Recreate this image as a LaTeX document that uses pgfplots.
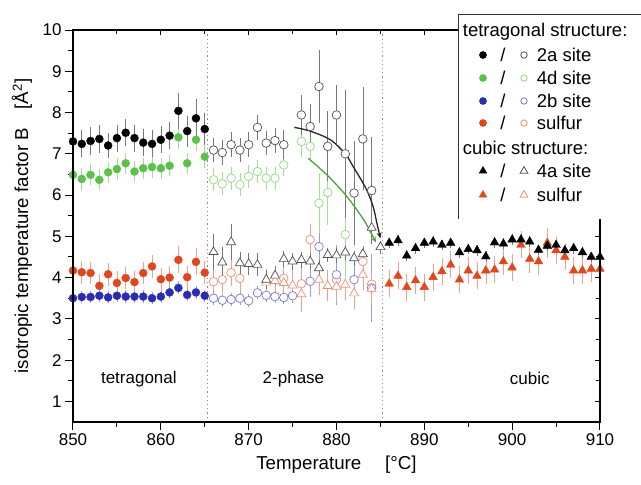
\documentclass[border=0pt]{standalone}
\usepackage{fontspec}
\setmainfont{Liberation Sans}
\usepackage{pgfplots}
\pgfplotsset{compat=1.18}
\usetikzlibrary{arrows.meta}

\definecolor{cGreen}{HTML}{5CC04A}
\definecolor{cBlue}{HTML}{2B2BB3}
\definecolor{cRed}{HTML}{E0471C}
\definecolor{oGray}{HTML}{505050}
\definecolor{oGreen}{HTML}{92D884}
\definecolor{oBlue}{HTML}{7878D8}
\definecolor{oRed}{HTML}{EE9079}
\definecolor{eGray}{HTML}{777777}
\definecolor{eGreen}{HTML}{A4DC98}
\definecolor{eBlue}{HTML}{9A9AE0}
\definecolor{eRed}{HTML}{F0A08C}
\definecolor{dotGray}{HTML}{8A8A8A}

\newcommand{\fs}{\fontsize{17}{20}\selectfont}
\newcommand{\labfs}{\fontsize{18.7}{22}\selectfont}
\newcommand{\lfs}{\fontsize{18.5}{22}\selectfont}

\pgfplotsset{
  ebar/.style={error bars/.cd, y dir=both, y explicit,
    error bar style={draw=#1, line width=0.6pt},
    error mark options={draw=#1, mark size=3.2pt, line width=0.6pt}},
  fdot/.style={only marks, mark=*, mark size=4pt, mark options={fill=#1, draw=#1}},
  odot/.style={only marks, mark=*, mark size=4.3pt, mark options={fill=white, draw=#1, line width=0.7pt}},
  ftri/.style={only marks, mark=triangle*, mark size=5pt, mark options={fill=#1, draw=#1}},
  otri/.style={only marks, mark=triangle*, mark size=5.2pt, mark options={fill=white, draw=#1, line width=0.7pt}},
}

\begin{document}
\begin{tikzpicture}
\begin{axis}[
  at={(0,0)}, anchor=south west,
  width=527pt, height=392pt, scale only axis,
  xmin=850, xmax=910, ymin=0.5, ymax=10,
  xtick={850,860,...,910}, ytick={1,...,10},
  minor x tick num=1, minor y tick num=1,
  xtick pos=bottom, ytick pos=left, tick align=outside,
  major tick length=8pt, minor tick length=5pt,
  axis line style={line width=1.1pt},
  tick style={line width=1pt, black},
  font=\fs, ticklabel style={font=\fs},
  /pgf/number format/assume math mode=true,
  /pgf/number format/1000 sep={},
  xlabel={Temperature\quad\ [°C]},
  ylabel={isotropic temperature factor B\quad[Å\textsuperscript{2}]},
  xlabel style={font=\labfs, at={(axis description cs:0.5,-0.11)}, anchor=center},
  ylabel style={font=\labfs, at={(axis description cs:-0.097,0.5)}, anchor=center},
  clip=false,
]
% phase boundaries
\addplot[dotGray, line width=1.2pt, dash pattern=on 1.2pt off 3pt] coordinates {(865.3,0.5) (865.3,10)};
\addplot[dotGray, line width=1.2pt, dash pattern=on 1.2pt off 3pt] coordinates {(885.2,0.5) (885.2,10)};

% ---- 2-phase region, open symbols ----
\addplot[odot=oRed, ebar=eRed] coordinates {
 (866,3.90)+-(0,0.25) (867,3.95)+-(0,0.25) (868,4.12)+-(0,0.25) (869,3.98)+-(0,0.25)
 (874,3.98)+-(0,0.3) (876,3.85)+-(0,0.3) (877,4.92)+-(0,0.3) (880,3.95)+-(0,0.3)
 (883,4.39)+-(0,0.3) (884,3.84)+-(0,0.3)
};
\addplot[odot=oBlue, ebar=eBlue] coordinates {
 (866,3.50)+-(0,0.08) (867,3.45)+-(0,0.08) (868,3.47)+-(0,0.08) (869,3.50)+-(0,0.08)
 (870,3.44)+-(0,0.08) (871,3.63)+-(0,0.08) (872,3.57)+-(0,0.08) (873,3.54)+-(0,0.08)
 (874,3.52)+-(0,0.08) (875,3.56)+-(0,0.1) (877,3.91)+-(0,0.3) (878,4.75)+-(0,0.3)
 (880,4.07)+-(0,0.65) (882,3.95)+-(0,0.55) (884,3.75)+-(0,0.75)
};
\addplot[otri=oRed, ebar=eRed] coordinates {
 (872,3.88)+-(0,0.25) (873,3.92)+-(0,0.25) (874,3.87)+-(0,0.3) (875,3.81)+-(0,0.3)
 (876,3.60)+-(0,0.35) (878,3.95)+-(0,0.3) (879,3.80)+-(0,0.3) (880,3.78)+-(0,0.3)
 (881,3.83)+-(0,0.3) (882,3.62)+-(0,0.3) (883,4.07)+-(0,0.3) (884,3.73)+-(0,0.3)
};
\addplot[odot=oGreen, ebar=eGreen] coordinates {
 (866,6.37)+-(0,0.2) (867,6.27)+-(0,0.2) (868,6.41)+-(0,0.2) (869,6.25)+-(0,0.2)
 (870,6.45)+-(0,0.2) (871,6.57)+-(0,0.2) (872,6.41)+-(0,0.2) (873,6.41)+-(0,0.2)
 (874,6.73)+-(0,0.2) (876,7.30)+-(0,0.3) (877,7.18)+-(0,0.3) (878,5.80)+-(0,0.65)
 (879,6.06)+-(0,0.7) (881,5.04)+-(0,1.1)
};
\addplot[odot=oGray, ebar=eGray] coordinates {
 (866,7.09)+-(0,0.22) (867,7.03)+-(0,0.22) (868,7.22)+-(0,0.22) (869,7.09)+-(0,0.22)
 (870,7.22)+-(0,0.22) (871,7.64)+-(0,0.22) (872,7.26)+-(0,0.22) (873,7.32)+-(0,0.22)
 (874,7.22)+-(0,0.28) (876,7.94)+-(0,0.4) (877,7.66)+-(0,0.48) (878,8.63)+-(0,0.8)
 (879,7.18)+-(0,0.77) (880,7.94)+-(0,0.65) (881,7.00)+-(0,1.47) (882,6.05)+-(0,1.19)
 (883,7.36)+-(0,1.17) (884,6.11)+-(0,1.23)
};
\addplot[otri=oGray, ebar=eGray] coordinates {
 (866,4.62)+-(0,0.36) (867,4.37)+-(0,0.3) (868,4.86)+-(0,0.35) (869,4.35)+-(0,0.2)
 (870,4.33)+-(0,0.2) (871,4.31)+-(0,0.2) (872,3.95)+-(0,0.15) (873,4.05)+-(0,0.15)
 (874,4.45)+-(0,0.12) (875,4.39)+-(0,0.12) (876,4.43)+-(0,0.12) (877,4.39)+-(0,0.12)
 (878,4.23)+-(0,0.12) (879,4.55)+-(0,0.1) (880,4.54)+-(0,0.1) (881,4.61)+-(0,0.1)
 (882,4.47)+-(0,0.1) (883,4.57)+-(0,0.1) (884,5.21)+-(0,0.12) (885,4.74)+-(0,0.08)
};

% ---- tetragonal region, filled circles ----
\addplot[fdot=cRed, ebar=eRed] coordinates {
 (850,4.17)+-(0,0.2) (851,4.13)+-(0,0.2) (852,4.11)+-(0,0.2) (853,3.80)+-(0,0.2)
 (854,4.08)+-(0,0.2) (855,3.87)+-(0,0.2) (856,3.99)+-(0,0.2) (857,3.89)+-(0,0.2)
 (858,4.11)+-(0,0.2) (859,4.27)+-(0,0.2) (860,3.96)+-(0,0.2) (861,4.00)+-(0,0.2)
 (862,4.43)+-(0,0.25) (863,4.01)+-(0,0.2) (864,4.38)+-(0,0.25) (865,4.12)+-(0,0.2)
};
\addplot[fdot=cBlue, ebar=eBlue] coordinates {
 (850,3.50)+-(0,0.07) (851,3.53)+-(0,0.07) (852,3.53)+-(0,0.07) (853,3.56)+-(0,0.07)
 (854,3.52)+-(0,0.07) (855,3.56)+-(0,0.07) (856,3.54)+-(0,0.07) (857,3.54)+-(0,0.07)
 (858,3.54)+-(0,0.07) (859,3.50)+-(0,0.07) (860,3.54)+-(0,0.07) (861,3.64)+-(0,0.07)
 (862,3.75)+-(0,0.08) (863,3.58)+-(0,0.07) (864,3.64)+-(0,0.07) (865,3.56)+-(0,0.07)
};
\addplot[fdot=cGreen, ebar=eGreen] coordinates {
 (850,6.49)+-(0,0.18) (851,6.39)+-(0,0.18) (852,6.49)+-(0,0.18) (853,6.37)+-(0,0.18)
 (854,6.55)+-(0,0.18) (855,6.63)+-(0,0.18) (856,6.77)+-(0,0.18) (857,6.57)+-(0,0.18)
 (858,6.65)+-(0,0.18) (859,6.68)+-(0,0.18) (860,6.65)+-(0,0.18) (861,6.71)+-(0,0.18)
 (862,7.40)+-(0,0.2) (863,6.77)+-(0,0.18) (864,7.34)+-(0,0.2) (865,6.93)+-(0,0.2)
};
\addplot[fdot=black, ebar=eGray] coordinates {
 (850,7.30)+-(0,0.25) (851,7.24)+-(0,0.25) (852,7.31)+-(0,0.25) (853,7.36)+-(0,0.27)
 (854,7.20)+-(0,0.22) (855,7.38)+-(0,0.25) (856,7.51)+-(0,0.25) (857,7.38)+-(0,0.25)
 (858,7.27)+-(0,0.25) (859,7.24)+-(0,0.25) (860,7.34)+-(0,0.25) (861,7.44)+-(0,0.25)
 (862,8.04)+-(0,0.35) (863,7.55)+-(0,0.3) (864,7.86)+-(0,0.38) (865,7.60)+-(0,0.3)
};

% ---- cubic region, filled triangles ----
\addplot[ftri=cRed, ebar=eRed] coordinates {
 (886,3.85)+-(0,0.25) (887,4.04)+-(0,0.25) (888,3.77)+-(0,0.25) (889,3.93)+-(0,0.25)
 (890,3.77)+-(0,0.25) (891,4.01)+-(0,0.25) (892,4.15)+-(0,0.25) (893,4.31)+-(0,0.25)
 (894,3.95)+-(0,0.25) (895,4.17)+-(0,0.25) (896,4.04)+-(0,0.25) (897,4.17)+-(0,0.25)
 (898,4.19)+-(0,0.25) (899,4.39)+-(0,0.25) (900,4.24)+-(0,0.25) (901,4.79)+-(0,0.25)
 (902,4.45)+-(0,0.25) (903,4.39)+-(0,0.25) (904,4.84)+-(0,0.28) (905,4.66)+-(0,0.25)
 (906,4.50)+-(0,0.25) (907,4.17)+-(0,0.25) (908,4.17)+-(0,0.25) (909,4.21)+-(0,0.25)
 (910,4.21)+-(0,0.25)
};
\addplot[ftri=black, ebar=eGray] coordinates {
 (886,4.84)+-(0,0.05) (887,4.90)+-(0,0.05) (888,4.53)+-(0,0.05) (889,4.71)+-(0,0.05)
 (890,4.84)+-(0,0.05) (891,4.87)+-(0,0.05) (892,4.79)+-(0,0.05) (893,4.84)+-(0,0.05)
 (894,4.61)+-(0,0.05) (895,4.69)+-(0,0.05) (896,4.66)+-(0,0.05) (897,4.51)+-(0,0.05)
 (898,4.85)+-(0,0.05) (899,4.82)+-(0,0.05) (900,4.92)+-(0,0.05) (901,4.92)+-(0,0.05)
 (902,4.87)+-(0,0.05) (903,4.67)+-(0,0.05) (904,4.77)+-(0,0.05) (905,4.79)+-(0,0.05)
 (906,4.66)+-(0,0.05) (907,4.71)+-(0,0.05) (908,4.61)+-(0,0.05) (909,4.50)+-(0,0.05)
 (910,4.50)+-(0,0.05)
};

% ---- fitted curves ----
\addplot[smooth, line width=1.3pt, color=cGreen!85!black, -{Stealth[length=6pt,width=5pt]}] coordinates {
 (876.8,6.89) (879.1,6.45) (881.2,5.96) (883.1,5.40) (884.0,5.05) (884.5,4.85)
};
\addplot[smooth, line width=1.3pt, color=black!85, -{Stealth[length=6pt,width=5pt]}] coordinates {
 (875.2,7.64) (877.0,7.55) (879.3,7.34) (881.0,7.00) (881.9,6.69) (883.0,6.30)
 (883.6,6.05) (884.2,5.70) (884.6,5.32) (885.0,4.95)
};

% region labels
\node[font=\fs] at (axis cs:857.5,1.55) {tetragonal};
\node[font=\fs] at (axis cs:875.1,1.55) {2-phase};
\node[font=\fs] at (axis cs:902.0,1.55) {cubic};
\end{axis}

% mirrored ticks on top and right, pointing inwards
\begin{axis}[
  at={(0,0)}, anchor=south west,
  width=527pt, height=392pt, scale only axis,
  xmin=850, xmax=910, ymin=0.5, ymax=10,
  xtick={850,860,...,910}, ytick={1,...,10},
  minor x tick num=1, minor y tick num=1,
  xtick pos=top, ytick pos=right, tick align=inside,
  major tick length=5pt, minor tick length=4pt,
  tick style={line width=1pt, black},
  axis line style={line width=1.1pt},
  xticklabels={}, yticklabels={},
]
\end{axis}

% legend
\fill[white] (385pt,203pt) rectangle (580pt,407pt);
\draw[line width=1pt, black!80] (385pt,203pt) -- (385pt,407pt) -- (580pt,407pt);
\begin{scope}[font=\lfs]
\node[anchor=west, inner sep=0pt] at (389.7pt,390pt) {tetragonal structure:};
\node[anchor=west, inner sep=0pt] at (389.7pt,274pt) {cubic structure:};
\foreach \yy/\lab in {367/2a site, 344/4d site, 321/2b site, 299/sulfur, 251/4a site, 227/sulfur}{
  \node[anchor=west, inner sep=0pt] at (463.7pt,\yy pt) {\lab};
  \node[inner sep=0pt] at (430pt,\yy pt) {/};
}
\path[fill=black] plot[mark=*, mark size=3.6pt] coordinates {(410pt,367pt)};
\path[draw=oGray, line width=0.8pt] plot[mark=o, mark size=3.2pt] coordinates {(451pt,367pt)};
\path[fill=cGreen, draw=cGreen] plot[mark=*, mark size=3.6pt] coordinates {(410pt,344pt)};
\path[draw=oGreen, line width=0.8pt] plot[mark=o, mark size=3.2pt] coordinates {(451pt,344pt)};
\path[fill=cBlue, draw=cBlue] plot[mark=*, mark size=3.6pt] coordinates {(410pt,321pt)};
\path[draw=oBlue, line width=0.8pt] plot[mark=o, mark size=3.2pt] coordinates {(451pt,321pt)};
\path[fill=cRed, draw=cRed] plot[mark=*, mark size=3.6pt] coordinates {(410pt,299pt)};
\path[draw=oRed, line width=0.8pt] plot[mark=o, mark size=3.2pt] coordinates {(451pt,299pt)};
\path[fill=black, draw=black] plot[mark=triangle*, mark size=4.5pt] coordinates {(410pt,251pt)};
\path[draw=oGray, line width=0.8pt] plot[mark=triangle, mark size=4.5pt] coordinates {(451pt,251pt)};
\path[fill=cRed, draw=cRed] plot[mark=triangle*, mark size=4.5pt] coordinates {(410pt,227pt)};
\path[draw=oRed, line width=0.8pt] plot[mark=triangle, mark size=4.5pt] coordinates {(451pt,227pt)};
\end{scope}

\pgfresetboundingbox
\path[use as bounding box] (-73pt,-63pt) rectangle (568pt,422pt);
\end{tikzpicture}
\end{document}
